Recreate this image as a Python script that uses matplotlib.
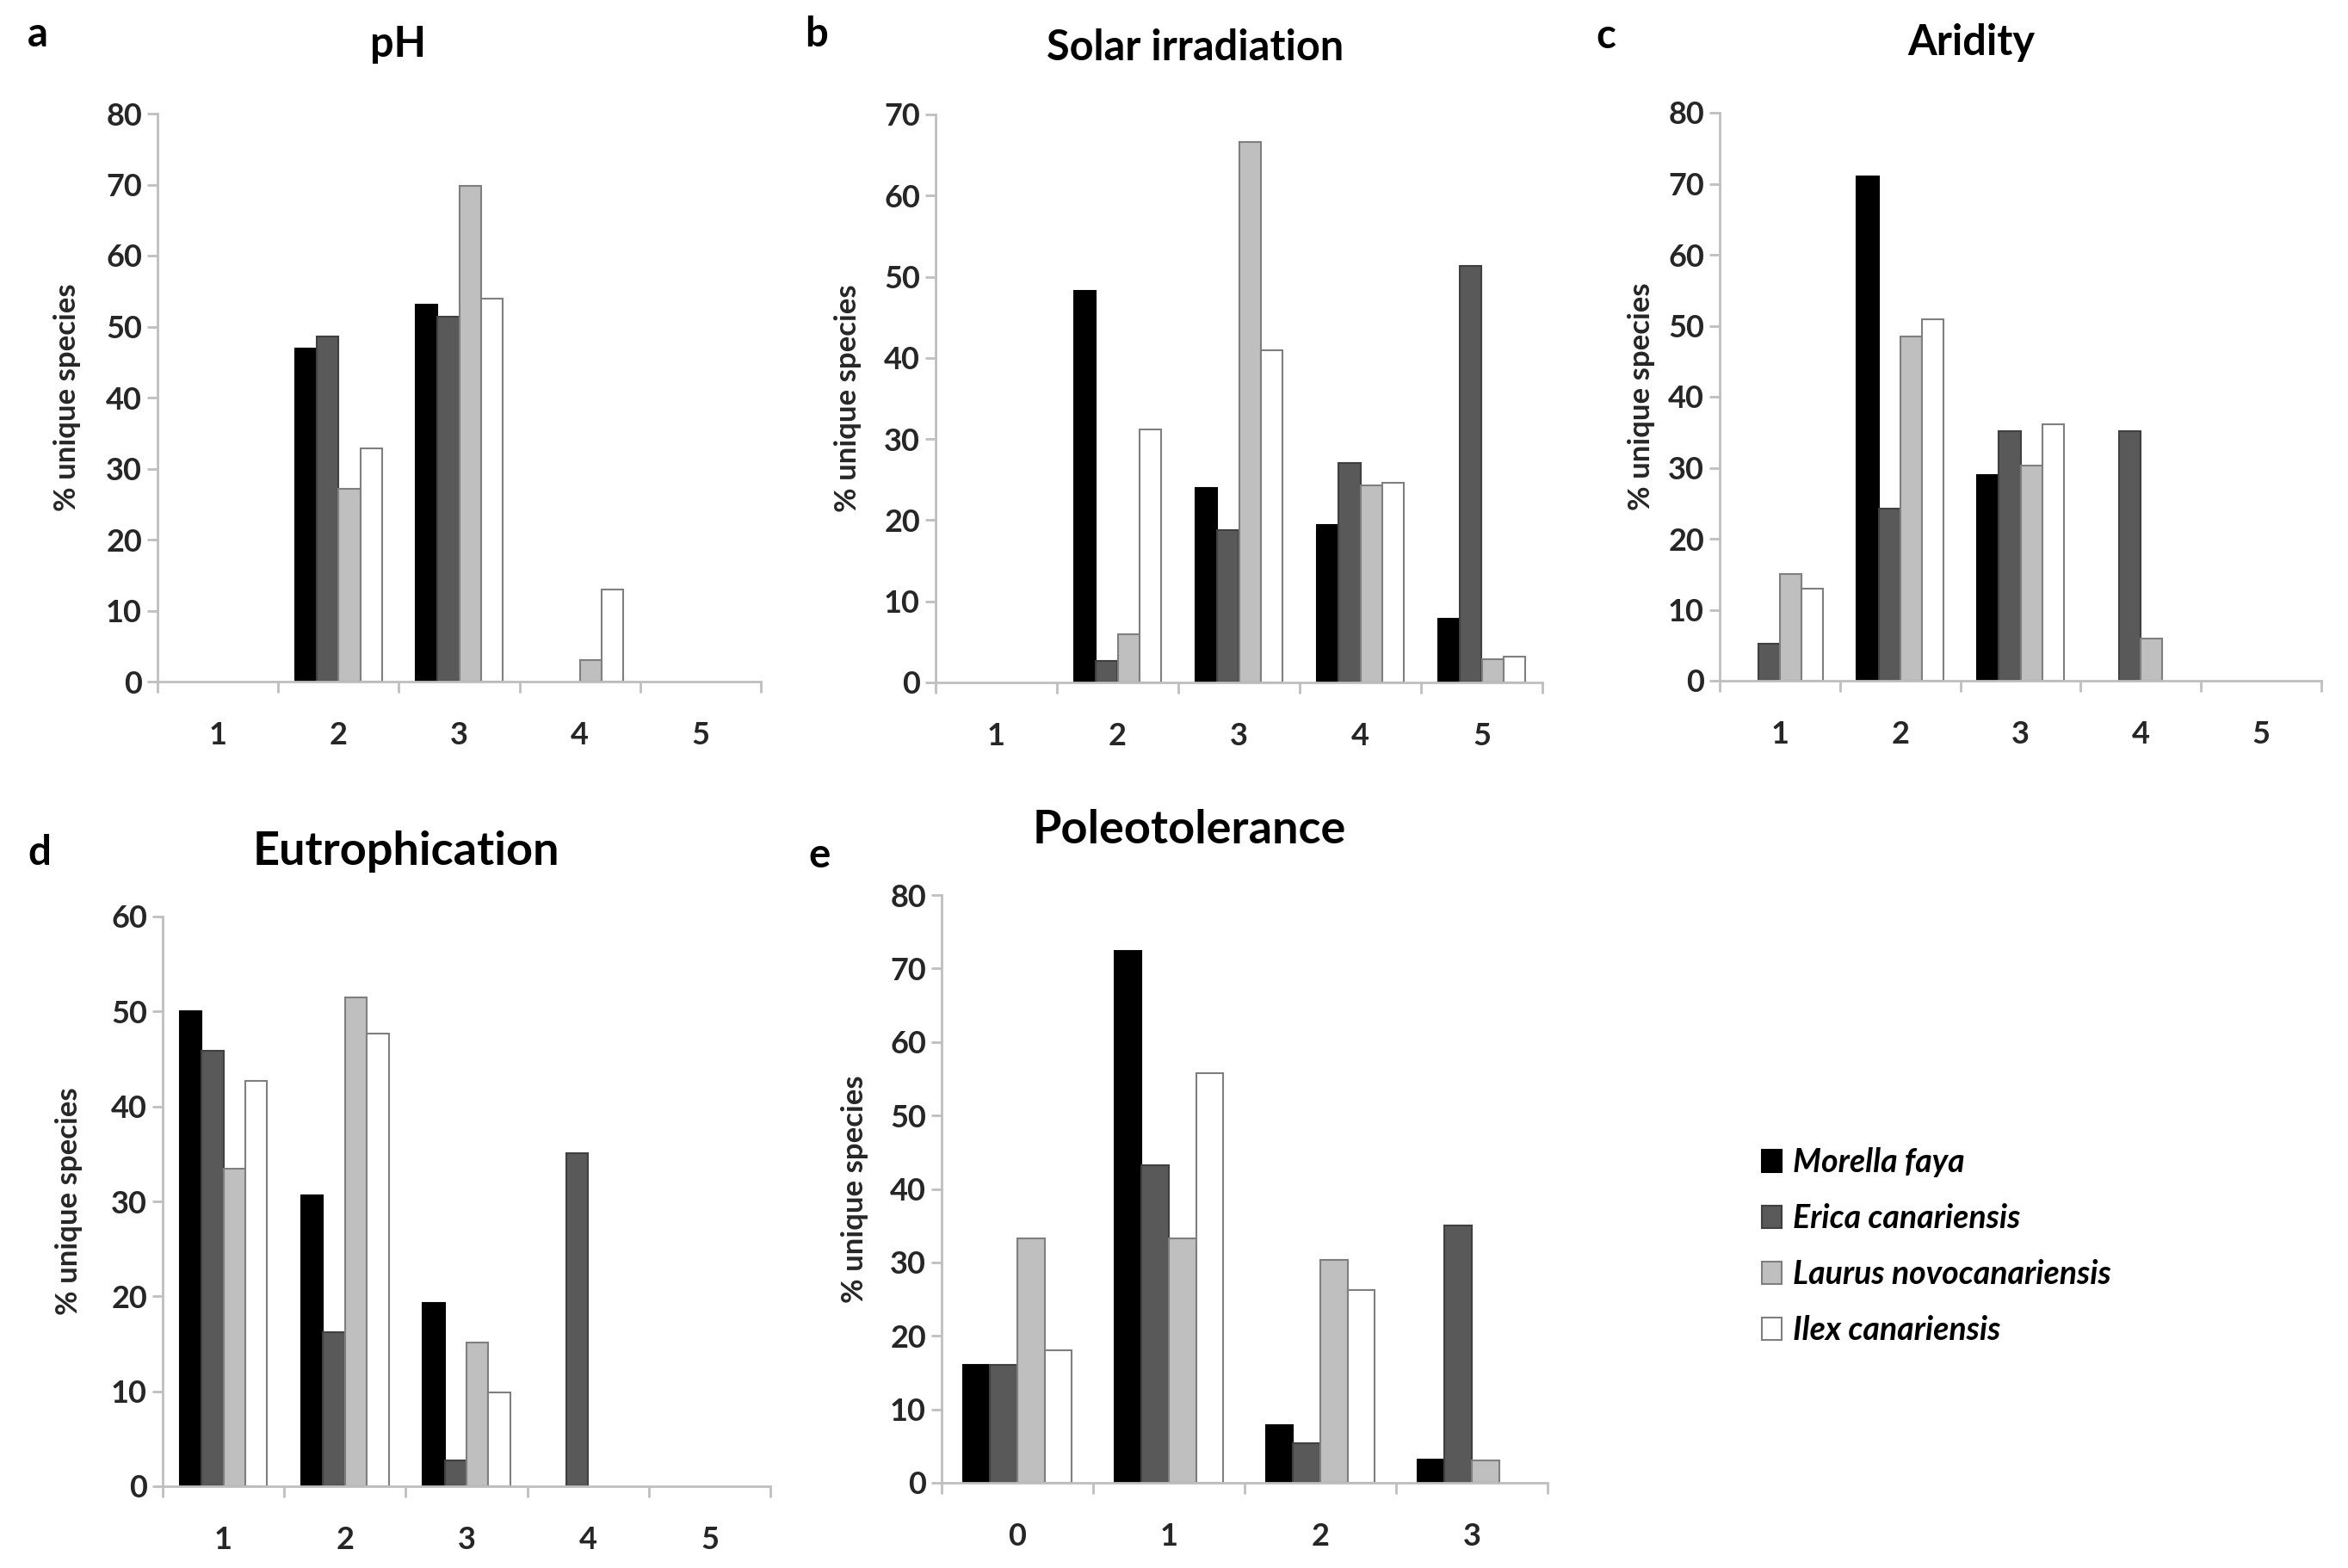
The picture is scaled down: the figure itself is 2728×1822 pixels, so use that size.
import numpy as np
import matplotlib
matplotlib.use("Agg")
import matplotlib.pyplot as plt
from matplotlib.ticker import FixedLocator

plt.rcParams['font.family'] = ['Lato', 'DejaVu Sans']

#******** Data **************************************
species = ['Morella faya', 'Erica canariensis',
           'Laurus novocanariensis', 'Ilex canariensis']

cats_15 = ['1', '2', '3', '4', '5']
cats_03 = ['0', '1', '2', '3']

# pH
ph_morella = [0, 46.9, 53.1, 0, 0]
ph_erica = [0, 48.6, 51.4, 0, 0]
ph_laurus = [0, 27.1, 69.8, 3.0, 0]
ph_ilex = [0, 32.9, 54.0, 13.0, 0]

# Solar irradiation
sol_morella = [0, 48.3, 24.0, 19.4, 7.9]
sol_erica = [0, 2.6, 18.8, 27.0, 51.3]
sol_laurus = [0, 5.9, 66.6, 24.3, 2.9]
sol_ilex = [0, 31.2, 40.9, 24.6, 3.2]

# Aridity
ari_morella = [0, 71.0, 29.0, 0, 0]
ari_erica = [5.2, 24.3, 35.2, 35.2, 0]
ari_laurus = [15.0, 48.5, 30.3, 6.0, 0]
ari_ilex = [13.0, 50.9, 36.1, 0, 0]

# Eutrophication
eut_morella = [50.0, 30.6, 19.3, 0, 0]
eut_erica = [45.9, 16.2, 2.7, 35.1, 0]
eut_laurus = [33.4, 51.5, 15.1, 0, 0]
eut_ilex = [42.7, 47.7, 9.9, 0, 0]

# Poleotolerance
pol_morella = [16.1, 72.4, 7.9, 3.2]
pol_erica = [16.1, 43.2, 5.4, 35.0]
pol_laurus = [33.3, 33.3, 30.3, 3.0]
pol_ilex = [18.0, 55.8, 26.2, 0]

#******** Styles *************
fills = ['#000000', '#595959', '#bfbfbf', '#ffffff']
edges = ['#000000', '#404040', '#7f7f7f', '#7f7f7f']
bar_w = 0.18
axis_grey = '#bfbfbf'
txt = '#262626'

W, H = 2728, 1822
fig = plt.figure(figsize=(W / 100, H / 100), dpi=100)


def panel(left, right, top, bottom, cats, series, ymax, ylab_x):
    ax = fig.add_axes([left / W, 1 - bottom / H,
                       (right - left) / W, (bottom - top) / H])
    x = np.arange(len(cats))
    for i, vals in enumerate(series):
        off = (i - 1.5) * bar_w
        v = np.array(vals, dtype=float)
        v[v == 0] = np.nan  # empty classes: no bar at all
        ax.bar(x + off, v, bar_w, color=fills[i], edgecolor=edges[i],
               linewidth=1.5, label=species[i], zorder=2)
    ax.set_xlim(-0.5, len(cats) - 0.5)
    ax.set_ylim(0, ymax)
    ax.set_yticks(np.arange(0, ymax + 1, 10))
    ax.set_xticks(x)
    ax.set_xticklabels(cats)
    ax.xaxis.set_minor_locator(FixedLocator(np.arange(-0.5, len(cats), 1.0)))
    for sp in ['top', 'right']:
        ax.spines[sp].set_visible(False)
    for sp in ['left', 'bottom']:
        ax.spines[sp].set_color(axis_grey)
        ax.spines[sp].set_linewidth(2)
    ax.tick_params(axis='y', length=9, width=2, color=axis_grey,
                   labelsize=26, labelcolor=txt, pad=4)
    ax.tick_params(axis='x', which='major', length=0, labelsize=26,
                   labelcolor=txt, pad=33)
    ax.tick_params(axis='x', which='minor', length=9, width=2,
                   color=axis_grey)
    for lab in ax.get_xticklabels() + ax.get_yticklabels():
        lab.set_fontweight('bold')
    ax.set_ylabel('% unique species', fontsize=25, fontweight='bold',
                  color=txt)
    ax.yaxis.set_label_coords((ylab_x - left) / (right - left), 0.5)
    return ax


ax_a = panel(183, 884, 132, 792, cats_15,
             [ph_morella, ph_erica, ph_laurus, ph_ilex], 80, 94)
ax_b = panel(1087, 1792, 133, 793, cats_15,
             [sol_morella, sol_erica, sol_laurus, sol_ilex], 70, 1001)
ax_c = panel(1998, 2697, 131, 791, cats_15,
             [ari_morella, ari_erica, ari_laurus, ari_ilex], 80, 1923)
ax_d = panel(189, 895, 1065, 1727, cats_15,
             [eut_morella, eut_erica, eut_laurus, eut_ilex], 60, 96)
ax_e = panel(1094, 1798, 1040, 1723, cats_03,
             [pol_morella, pol_erica, pol_laurus, pol_ilex], 80, 1009)

# titles and panel letters (pixel positions from the reference)
titles = [('pH', 463, 52, 35), ('Solar irradiation', 1389, 56, 35),
          ('Aridity', 2290, 49, 35), ('Eutrophication', 472, 990, 39),
          ('Poleotolerance', 1382, 964, 39)]
for t, tx, ty, fs in titles:
    fig.text(tx / W, 1 - ty / H, t, ha='center', va='center',
             fontsize=fs, fontweight='bold', color='black')

letters = [('a', 44, 40), ('b', 948, 40), ('c', 1866, 42),
           ('d', 46, 991), ('e', 952, 994)]
for t, tx, ty in letters:
    fig.text(tx / W, 1 - ty / H, t, ha='center', va='center',
             fontsize=34, fontweight='bold', color='black')

handles, labels = ax_a.get_legend_handles_labels()
fig.legend(handles, labels, loc='upper left',
           bbox_to_anchor=(2032 / W, 1 - 1318 / H), frameon=False,
           prop={'family': 'Lato', 'style': 'italic', 'weight': 'bold',
                 'size': 27},
           handlelength=0.6, handleheight=0.68, handletextpad=0.35,
           labelspacing=0.8, borderaxespad=0)

fig.savefig('out.png', dpi=100, facecolor='white')
